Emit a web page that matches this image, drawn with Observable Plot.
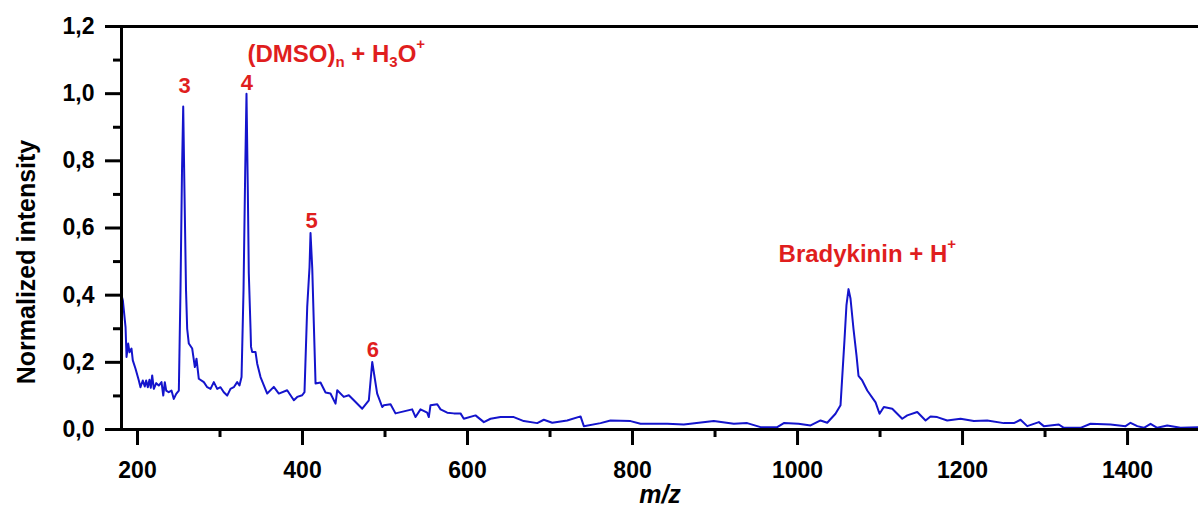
<!DOCTYPE html>
<html><head><meta charset="utf-8">
<script src="https://cdn.jsdelivr.net/npm/d3@7"></script>
<script src="https://cdn.jsdelivr.net/npm/@observablehq/plot@0.6"></script>
<style>body{margin:0;background:#fff;}</style>
</head><body><div id="chart"></div>
<script>
// m/z values and normalized intensities
const mz = [180.6,182.2,185.5,186.7,188.7,190.3,192.7,194.3,197.6,201.6,203.6,206.4,208.8,210.5,212.5,214.5,216.1,217.8,219.8,222.7,225.8,229.1,231.2,233.1,234.8,237.9,241.2,244.0,246.9,250.1,
252.1,253.9,255.4,256.9,258.8,260.2,262.2,266.3,269.5,271.5,274.3,280.4,284.5,288.5,292.5,296.6,300.6,304.6,308.7,312.7,316.7,320.8,323.6,326.1,
328.5,330.5,332.1,333.7,334.9,337.0,337.6,339.0,343.0,345.1,349.1,357.2,365.2,371.3,381.4,389.5,393.6,399.6,
402.4,405.7,408.5,409.7,411.8,413.7,415.8,421.8,427.9,433.9,440.0,442.1,450.0,456.1,462.2,472.4,480.4,484.5,490.5,496.6,498.6,506.7,512.7,522.8,532.9,537.0,543.0,551.1,553.1,555.1,563.3,567.3,575.4,583.4,591.5,595.5,609.7,619.8,627.9,640.0,656.1,668.2,684.5,692.5,702.7,720.8,737.0,741.0,761.2,773.3,797.6,809.7,842.0,862.2,898.5,922.8,939.0,955.2,975.4,983.4,1001.2,1015.8,1027.9,1036.0,1046.0,1052.1,
1056.9,1059.3,1061.8,1064.2,1067.8,1071.5,1073.9,1078.4,1084.5,1094.6,1099.4,1104.6,1114.8,1126.9,1133.0,1145.1,1155.2,1161.2,1169.3,1181.4,1197.6,1213.7,1229.9,1250.0,1262.2,1270.3,1278.4,1292.5,1298.5,1316.7,1322.8,1343.0,1355.1,1379.4,1397.6,1403.6,1411.8,1419.8,1427.9,1436.0,1448.1,1464.2,1486.0];
const intensity = [0.40,0.385,0.305,0.216,0.256,0.23,0.241,0.206,0.181,0.146,0.126,0.146,0.128,0.146,0.126,0.148,0.124,0.161,0.121,0.138,0.131,0.141,0.101,0.141,0.116,0.111,0.116,0.091,0.106,0.116,
0.415,0.764,0.962,0.713,0.415,0.30,0.256,0.241,0.186,0.211,0.151,0.141,0.126,0.121,0.141,0.121,0.126,0.111,0.101,0.121,0.126,0.141,0.131,0.156,
0.415,0.764,1.0,0.713,0.465,0.30,0.246,0.231,0.231,0.196,0.156,0.107,0.127,0.107,0.117,0.087,0.097,0.102,
0.111,0.365,0.484,0.585,0.48,0.316,0.137,0.14,0.11,0.107,0.077,0.117,0.097,0.102,0.087,0.062,0.087,0.201,0.107,0.067,0.072,0.075,0.048,0.054,0.06,0.037,0.06,0.05,0.037,0.072,0.075,0.06,0.05,0.048,0.048,0.032,0.042,0.022,0.032,0.037,0.037,0.025,0.019,0.029,0.02,0.027,0.039,0.01,0.019,0.027,0.025,0.017,0.017,0.015,0.025,0.017,0.019,0.007,0.007,0.019,0.017,0.012,0.027,0.02,0.047,0.072,
0.266,0.37,0.418,0.39,0.3,0.22,0.16,0.146,0.116,0.081,0.047,0.067,0.062,0.032,0.042,0.052,0.027,0.039,0.037,0.027,0.032,0.025,0.027,0.019,0.019,0.029,0.01,0.022,0.01,0.015,0.005,0.005,0.017,0.015,0.01,0.02,0.01,0.005,0.017,0.005,0.012,0.005,0.007];

const yTicks = [0, 0.2, 0.4, 0.6, 0.8, 1.0, 1.2];
const yMinorTicks = [0.1, 0.3, 0.5, 0.7, 0.9, 1.1];
const xTicks = [200, 400, 600, 800, 1000, 1200, 1400];
const xMinorTicks = [300, 500, 700, 900, 1100, 1300];

const peakLabels = ["3", "4", "5", "6"];
const peakLabelX = [257.0, 332.7, 410.9, 485.4];
const peakLabelY = [1.023, 1.033, 0.622, 0.238];

const ionLabels = ["(DMSO)n + H3O+", "Bradykinin + H+"];
const ionLabelX = [333.3, 977.0];
const ionLabelY = [1.118, 0.521];

const xTitle = "m/z";
const yTitle = "Normalized intensity";

const data = mz.map((m, i) => ({mz: m, v: intensity[i]}));
const red = "#e01e1e";

const chart = Plot.plot({
  width: 1198, height: 508,
  marginLeft: 121, marginRight: 0, marginTop: 26, marginBottom: 79,
  x: {domain: [180.6, 1486]},
  y: {domain: [0, 1.2]},
  style: {fontFamily: "'Liberation Sans', Arial, sans-serif", fontWeight: "bold", fontSize: "23px", color: "black", background: "white"},
  marks: [
    Plot.line(data, {x: "mz", y: "v", stroke: "#1414cc", strokeWidth: 2}),
    Plot.axisY({ticks: yTicks, tickSize: 16, tickPadding: 11, strokeWidth: 3, tickFormat: d => d.toFixed(1).replace(".", ","), label: null}),
    Plot.axisY({ticks: yMinorTicks, tickSize: 8, strokeWidth: 3, tickFormat: () => "", label: null}),
    Plot.axisX({ticks: xTicks, tickSize: 16, tickPadding: 16, strokeWidth: 3, tickFormat: d => String(d), label: null}),
    Plot.axisX({ticks: xMinorTicks, tickSize: 8, strokeWidth: 3, tickFormat: () => "", label: null}),
    Plot.ruleY([0], {strokeWidth: 3}),
    Plot.ruleY([1.2], {strokeWidth: 3}),
    Plot.ruleX([180.6], {strokeWidth: 3}),
    Plot.text(peakLabels, {x: (d, i) => peakLabelX[i], y: (d, i) => peakLabelY[i], text: d => d, fill: red, fontSize: 22, fontWeight: "bold", lineAnchor: "middle"}),
    Plot.text(ionLabels, {x: (d, i) => ionLabelX[i], y: (d, i) => ionLabelY[i], text: d => d, fill: red, fontSize: 24, fontWeight: "bold", textAnchor: "start", lineAnchor: "middle"}),
    Plot.text([yTitle], {frameAnchor: "left", text: d => d, rotate: -90, textAnchor: "middle", dx: -95, dy: 34, fontSize: 25, fontWeight: "bold", lineAnchor: "middle"}),
    Plot.text([xTitle], {frameAnchor: "bottom", text: d => d, dy: 65, fontSize: 25, fontWeight: "bold", fontStyle: "italic", lineAnchor: "middle"})
  ]
});
document.getElementById("chart").appendChild(chart);

// rich text: subscripts and superscripts
const rich = {
  "(DMSO)n + H3O+": [["(DMSO)", 0], ["n", 1], [" + H", 0], ["3", 1], ["O", 0], ["+", 2]],
  "Bradykinin + H+": [["Bradykinin + H", 0], ["+", 2]]
};
const ns = "http://www.w3.org/2000/svg";
chart.querySelectorAll("text").forEach(t => {
  const parts = rich[t.textContent];
  if (!parts) return;
  while (t.firstChild) t.removeChild(t.firstChild);
  let cur = 0;
  for (const [s, kind] of parts) {
    const ts = document.createElementNS(ns, "tspan");
    const target = kind === 1 ? 5 : kind === 2 ? -13 : 0;
    if (target !== cur) ts.setAttribute("dy", target - cur);
    cur = target;
    if (kind) ts.setAttribute("font-size", "15");
    ts.textContent = s;
    t.appendChild(ts);
  }
});
</script>
</body></html>
